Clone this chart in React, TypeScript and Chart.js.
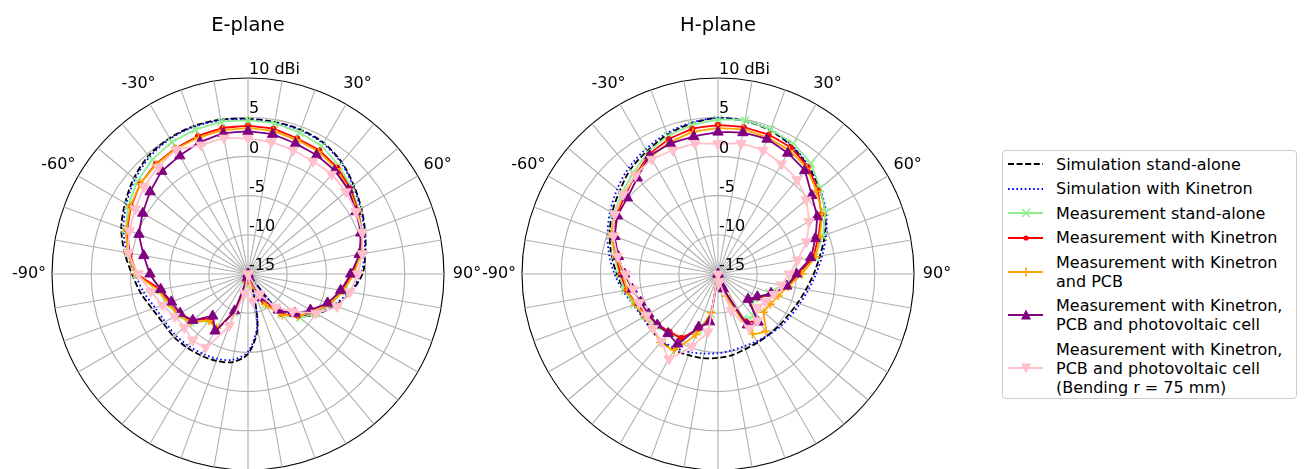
import React, { useEffect, useRef } from 'react';
import { Chart, registerables } from 'chart.js';

Chart.register(...registerables);

// ---------- data ----------
const ANGLES = [0, 10, 20, 30, 40, 50, 60, 70, 80, 90, 100, 110, 120, 130, 140, 150, 160, 170, 180,
  190, 200, 210, 220, 230, 240, 250, 260, 270, 280, 290, 300, 310, 320, 330, 340, 350];
const RADIAL_TICKS = [-15, -10, -5, 0, 5, 10];
const THETA_TICKS = [-90, -60, -30, 30, 60, 90];
const R_MIN = -15;
const R_MAX = 10;
const R_UNIT = 'dBi';

const E_SIM_STANDALONE = [4.8, 4.7, 4.6, 4.3, 3.6, 2.6, 1.7, 0.9, 0.2, -0.4, -1.7, -3.2, -4.8, -6.6, -9.3, -15, -13.5, -8.0, -4.8,
  -3.6, -3.2, -3.0, -2.8, -2.6, -2.5, -2.0, -1.1, -0.2, 1.0, 2.2, 3.1, 4.0, 4.7, 5.0, 5.1, 5.0];
const E_SIM_KINETRON = [4.7, 4.6, 4.5, 4.2, 3.5, 2.5, 1.6, 0.8, 0.1, -0.6, -1.9, -3.4, -5.0, -6.8, -9.5, -15, -13.7, -8.3, -5.1,
  -3.9, -3.5, -3.3, -3.1, -2.9, -2.8, -2.4, -1.5, -0.6, 0.7, 1.9, 2.9, 3.8, 4.5, 4.9, 5.0, 4.9];
const E_MEAS_STANDALONE = [4.6, 4.5, 4.2, 3.8, 3.0, 2.2, 1.3, 0.5, -0.3, -1.6, -2.6, -3.8, -5.0, -6.3, -8.3, -10.5, -13.5, -15, -15,
  -13.5, -9.8, -7.0, -7.2, -5.4, -4.6, -4.0, -3.3, -0.8, 0.5, 1.6, 2.6, 3.4, 4.0, 4.4, 4.6, 4.7];
const E_MEAS_KINETRON = [3.9, 3.8, 3.4, 3.2, 2.7, 2.0, 1.2, 0.4, -0.5, -1.7, -2.8, -3.9, -5.3, -6.7, -8.4, -11.0, -14.0, -15, -15,
  -14.0, -10.0, -6.8, -7.6, -5.8, -4.8, -4.3, -3.6, -0.9, 0.3, 1.4, 2.2, 2.9, 3.3, 3.5, 3.7, 3.9];
const E_MEAS_KINETRON_PCB = [3.6, 3.5, 3.2, 3.0, 2.5, 1.8, 1.1, 0.4, -0.5, -1.5, -2.7, -3.9, -5.4, -6.7, -8.2, -10.5, -13.5, -15, -15,
  -14.0, -9.8, -7.0, -7.2, -5.5, -4.7, -4.2, -3.3, -0.7, 0.6, 1.5, 2.3, 2.9, 3.2, 3.4, 3.5, 3.6];
const E_MEAS_PV = [3.2, 3.1, 2.7, 2.5, 2.2, 1.7, 0.9, 0.3, -0.6, -1.9, -3.0, -4.2, -5.8, -7.2, -9.0, -11.5, -14.5, -15, -15,
  -14.5, -10.0, -6.6, -8.0, -5.8, -5.0, -4.6, -3.7, -2.5, -1.5, -0.2, 0.5, 1.3, 2.1, 2.4, 2.9, 3.2];
const E_MEAS_PV_BENT = [2.3, 2.1, 1.8, 1.6, 1.6, 1.3, 0.9, 0.5, -0.2, -1.0, -1.8, -2.9, -5.0, -7.6, -9.5, -12.0, -15, -11.5, -15,
  -12.5, -8.0, -4.2, -4.0, -4.4, -4.2, -3.4, -2.4, -1.0, 0.5, 1.1, 1.6, 2.3, 2.8, 3.3, 2.5, 2.6];

const H_SIM_STANDALONE = [4.9, 4.8, 4.5, 3.8, 2.9, 1.9, 0.8, -0.5, -1.8, -2.8, -3.6, -4.2, -4.6, -4.8, -4.9, -4.9, -4.8, -4.5, -4.3,
  -4.1, -4.0, -3.8, -3.8, -3.9, -4.0, -3.7, -2.9, -2.1, -1.2, -0.3, 0.6, 1.4, 2.4, 3.1, 3.9, 4.5];
const H_SIM_KINETRON = [4.9, 4.8, 4.6, 3.9, 3.0, 2.0, 0.9, -0.3, -1.5, -2.5, -3.3, -3.9, -4.3, -4.6, -4.9, -5.1, -5.2, -5.1, -4.9,
  -4.7, -4.4, -4.1, -3.9, -3.9, -3.9, -3.5, -2.7, -1.8, -0.9, 0.0, 0.9, 1.8, 2.7, 3.4, 4.1, 4.6];
const H_MEAS_STANDALONE = [4.7, 4.9, 4.6, 4.2, 3.4, 2.0, 0.8, -0.8, -2.5, -4.6, -6.8, -8.0, -8.8, -9.3, -8.0, -8.5, -13, -15, -15,
  -9.8, -7.5, -5.5, -5.2, -4.7, -4.3, -3.6, -2.9, -2.4, -1.6, -0.5, 0.3, 1.0, 1.8, 2.9, 3.7, 4.3];
const H_MEAS_KINETRON = [4.0, 4.0, 3.9, 3.6, 2.8, 1.6, 0.2, -1.4, -2.7, -4.8, -6.0, -7.6, -9.0, -9.8, -7.2, -8.0, -13, -15, -15,
  -9.0, -7.5, -5.6, -5.4, -5.0, -4.6, -3.9, -3.2, -2.6, -1.8, -0.7, -0.1, 0.5, 1.4, 2.6, 3.3, 3.8];
const H_MEAS_KINETRON_PCB = [3.6, 3.7, 3.5, 3.2, 2.6, 1.4, 0.3, -1.2, -2.4, -4.3, -5.9, -6.8, -7.3, -7.4, -5.5, -6.2, -12, -15, -15,
  -10, -6.8, -3.8, -3.6, -4.2, -4.2, -3.8, -3.2, -2.9, -1.8, -0.5, 0.1, 0.7, 1.4, 2.2, 2.9, 3.4];
const H_MEAS_PV = [3.1, 3.3, 3.3, 2.8, 2.2, 0.6, -0.4, -1.8, -3.0, -5.0, -6.1, -7.8, -9.2, -10.0, -7.0, -7.5, -13, -15, -15,
  -8.8, -7.8, -4.7, -5.1, -4.9, -4.8, -4.5, -3.9, -3.1, -2.1, -1.0, -0.2, 0.1, 1.0, 2.4, 2.7, 2.8];
const H_MEAS_PV_BENT = [1.6, 1.9, 1.8, 1.2, 0.7, -0.3, -1.6, -3.0, -4.7, -5.9, -6.8, -7.4, -8.0, -8.4, -7.2, -7.0, -10, -14, -15,
  -7.5, -5.2, -2.5, -3.8, -4.2, -4.5, -4.3, -4.0, -3.2, -2.0, -0.8, 0.2, 0.8, 1.4, 1.9, 1.8, 1.9];

const E_PLANE_SERIES = [E_SIM_STANDALONE, E_SIM_KINETRON, E_MEAS_STANDALONE, E_MEAS_KINETRON,
  E_MEAS_KINETRON_PCB, E_MEAS_PV, E_MEAS_PV_BENT];
const H_PLANE_SERIES = [H_SIM_STANDALONE, H_SIM_KINETRON, H_MEAS_STANDALONE, H_MEAS_KINETRON,
  H_MEAS_KINETRON_PCB, H_MEAS_PV, H_MEAS_PV_BENT];

const LEGEND_LABELS = [
  ['Simulation stand-alone'],
  ['Simulation with Kinetron'],
  ['Measurement stand-alone'],
  ['Measurement with Kinetron'],
  ['Measurement with Kinetron', 'and PCB'],
  ['Measurement with Kinetron,', 'PCB and photovoltaic cell'],
  ['Measurement with Kinetron,', 'PCB and photovoltaic cell', '(Bending r = 75 mm)'],
];

// ---------- styles ----------
type Style = { color: string; dash: number[]; marker: string | null; radius: number; rotation: number; tension: number };
const STYLES: Style[] = [
  { color: '#000000', dash: [6, 2.6], marker: null, radius: 0, rotation: 0, tension: 0.3 },
  { color: '#0000ff', dash: [1.6, 2.6], marker: null, radius: 0, rotation: 0, tension: 0.3 },
  { color: '#90ee90', dash: [], marker: 'crossRot', radius: 5.5, rotation: 0, tension: 0.1 },
  { color: '#ff0000', dash: [], marker: 'circle', radius: 2.6, rotation: 0, tension: 0.1 },
  { color: '#ffa500', dash: [], marker: 'cross', radius: 4.5, rotation: 0, tension: 0.1 },
  { color: '#800080', dash: [], marker: 'triangle', radius: 6, rotation: 0, tension: 0.1 },
  { color: '#ffc0cb', dash: [], marker: 'triangle', radius: 6, rotation: 180, tension: 0.1 },
];

const FONT = '"DejaVu Sans", sans-serif';
const GRID_COLOR = '#b0b0b0';

const polarLabels = {
  id: 'polarLabels',
  afterDraw(chart: any) {
    const s = chart.scales.r;
    const ctx = chart.ctx;
    ctx.save();
    ctx.font = `16px ${FONT}`;
    ctx.fillStyle = '#000';
    ctx.textAlign = 'left';
    ctx.textBaseline = 'middle';
    RADIAL_TICKS.forEach((v) => {
      const d = s.getDistanceFromCenterForValue(v);
      ctx.fillText(v === R_MAX ? `${v} ${R_UNIT}` : String(v), s.xCenter + 1, s.yCenter - d - 8);
    });
    ctx.textAlign = 'center';
    THETA_TICKS.forEach((a) => {
      const idx = ANGLES.indexOf(((a % 360) + 360) % 360);
      const p = s.getPointPosition(idx, s.drawingArea + 23);
      ctx.fillText(`${a}°`, p.x, p.y);
    });
    ctx.restore();
  },
};

function PolarPanel({ series, left, top }: { series: number[][]; left: number; top: number }) {
  const ref = useRef<HTMLCanvasElement>(null);
  useEffect(() => {
    if (!ref.current) return;
    const chart = new Chart(ref.current, {
      type: 'radar',
      data: {
        labels: ANGLES.map((a) => `${a}°`),
        datasets: series.map((d, i) => {
          const st = STYLES[i];
          return {
            label: LEGEND_LABELS[i].join(' '),
            data: d,
            fill: false,
            borderColor: st.color,
            backgroundColor: st.color,
            borderWidth: 1.8,
            borderDash: st.dash,
            tension: st.tension,
            pointStyle: st.marker || 'circle',
            pointRadius: st.radius,
            pointRotation: st.rotation,
            pointBackgroundColor: st.color,
            pointBorderColor: st.color,
            pointBorderWidth: st.marker === 'cross' || st.marker === 'crossRot' ? 1.6 : 1,
            pointHoverRadius: st.radius,
            order: STYLES.length - i,
          };
        }),
      },
      options: {
        responsive: false,
        animation: false,
        events: [],
        layout: { padding: { left: 54, right: 54, top: 44, bottom: 44 } },
        plugins: { legend: { display: false }, tooltip: { enabled: false }, title: { display: false } },
        scales: {
          r: {
            min: R_MIN,
            max: R_MAX,
            ticks: { display: false, stepSize: 5 },
            pointLabels: { display: false },
            grid: {
              circular: true,
              color: (c: any) => (c.tick && c.tick.value === R_MAX ? '#000000' : GRID_COLOR),
              lineWidth: 1.1,
            },
            angleLines: { display: true, color: GRID_COLOR, lineWidth: 1.1 },
          },
        },
      },
      plugins: [polarLabels],
    } as any);
    return () => chart.destroy();
  }, [series]);
  return (
    <canvas
      ref={ref}
      width={500}
      height={480}
      style={{ position: 'absolute', left, top, width: 500, height: 480 }}
    />
  );
}

function Handle({ style }: { style: Style }) {
  const c = style.color;
  const cx = 18;
  const cy = 8;
  let marker: React.ReactNode = null;
  if (style.marker === 'crossRot') {
    marker = (
      <g stroke={c} strokeWidth={1.6}>
        <line x1={cx - 4} y1={cy - 4} x2={cx + 4} y2={cy + 4} />
        <line x1={cx - 4} y1={cy + 4} x2={cx + 4} y2={cy - 4} />
      </g>
    );
  } else if (style.marker === 'circle') {
    marker = <circle cx={cx} cy={cy} r={2.6} fill={c} />;
  } else if (style.marker === 'cross') {
    marker = (
      <g stroke={c} strokeWidth={1.6}>
        <line x1={cx - 4.5} y1={cy} x2={cx + 4.5} y2={cy} />
        <line x1={cx} y1={cy - 4.5} x2={cx} y2={cy + 4.5} />
      </g>
    );
  } else if (style.marker === 'triangle' && style.rotation === 0) {
    marker = <polygon points={`${cx},${cy - 5.5} ${cx - 5},${cy + 4.5} ${cx + 5},${cy + 4.5}`} fill={c} />;
  } else if (style.marker === 'triangle') {
    marker = <polygon points={`${cx},${cy + 5.5} ${cx - 5},${cy - 4.5} ${cx + 5},${cy - 4.5}`} fill={c} />;
  }
  return (
    <svg width={36} height={16} style={{ flex: '0 0 auto', overflow: 'visible' }}>
      <line x1={0} y1={cy} x2={35} y2={cy} stroke={c} strokeWidth={1.8}
        strokeDasharray={style.dash.length ? style.dash.join(' ') : undefined} />
      {marker}
    </svg>
  );
}

function Legend() {
  return (
    <div
      style={{
        position: 'absolute',
        left: 1002,
        top: 150,
        width: 293,
        height: 247,
        border: '1px solid #cccccc',
        borderRadius: 4,
        background: 'rgba(255,255,255,0.8)',
        boxSizing: 'content-box',
      }}
    >
      <div style={{ position: 'absolute', left: 5, top: 3.5 }}>
        {LEGEND_LABELS.map((lines, i) => (
          <div key={i} style={{ display: 'flex', alignItems: 'center', marginBottom: 5.5 }}>
            <Handle style={STYLES[i]} />
            <div style={{ marginLeft: 12, fontSize: 16, lineHeight: '19px', whiteSpace: 'nowrap', color: '#000' }}>
              {lines.map((l, j) => (
                <div key={j}>{l}</div>
              ))}
            </div>
          </div>
        ))}
      </div>
    </div>
  );
}

export default function App() {
  return (
    <div
      style={{
        position: 'absolute',
        left: 0,
        top: 0,
        width: 1308,
        height: 469,
        overflow: 'hidden',
        background: '#ffffff',
        fontFamily: FONT,
      }}
    >
      <PolarPanel series={E_PLANE_SERIES} left={-2} top={34} />
      <PolarPanel series={H_PLANE_SERIES} left={468} top={34} />
      <div style={{ position: 'absolute', left: 248, top: 13, transform: 'translateX(-50%)', fontSize: 19.5, whiteSpace: 'nowrap' }}>
        E-plane
      </div>
      <div style={{ position: 'absolute', left: 718, top: 13, transform: 'translateX(-50%)', fontSize: 19.5, whiteSpace: 'nowrap' }}>
        H-plane
      </div>
      <Legend />
    </div>
  );
}
